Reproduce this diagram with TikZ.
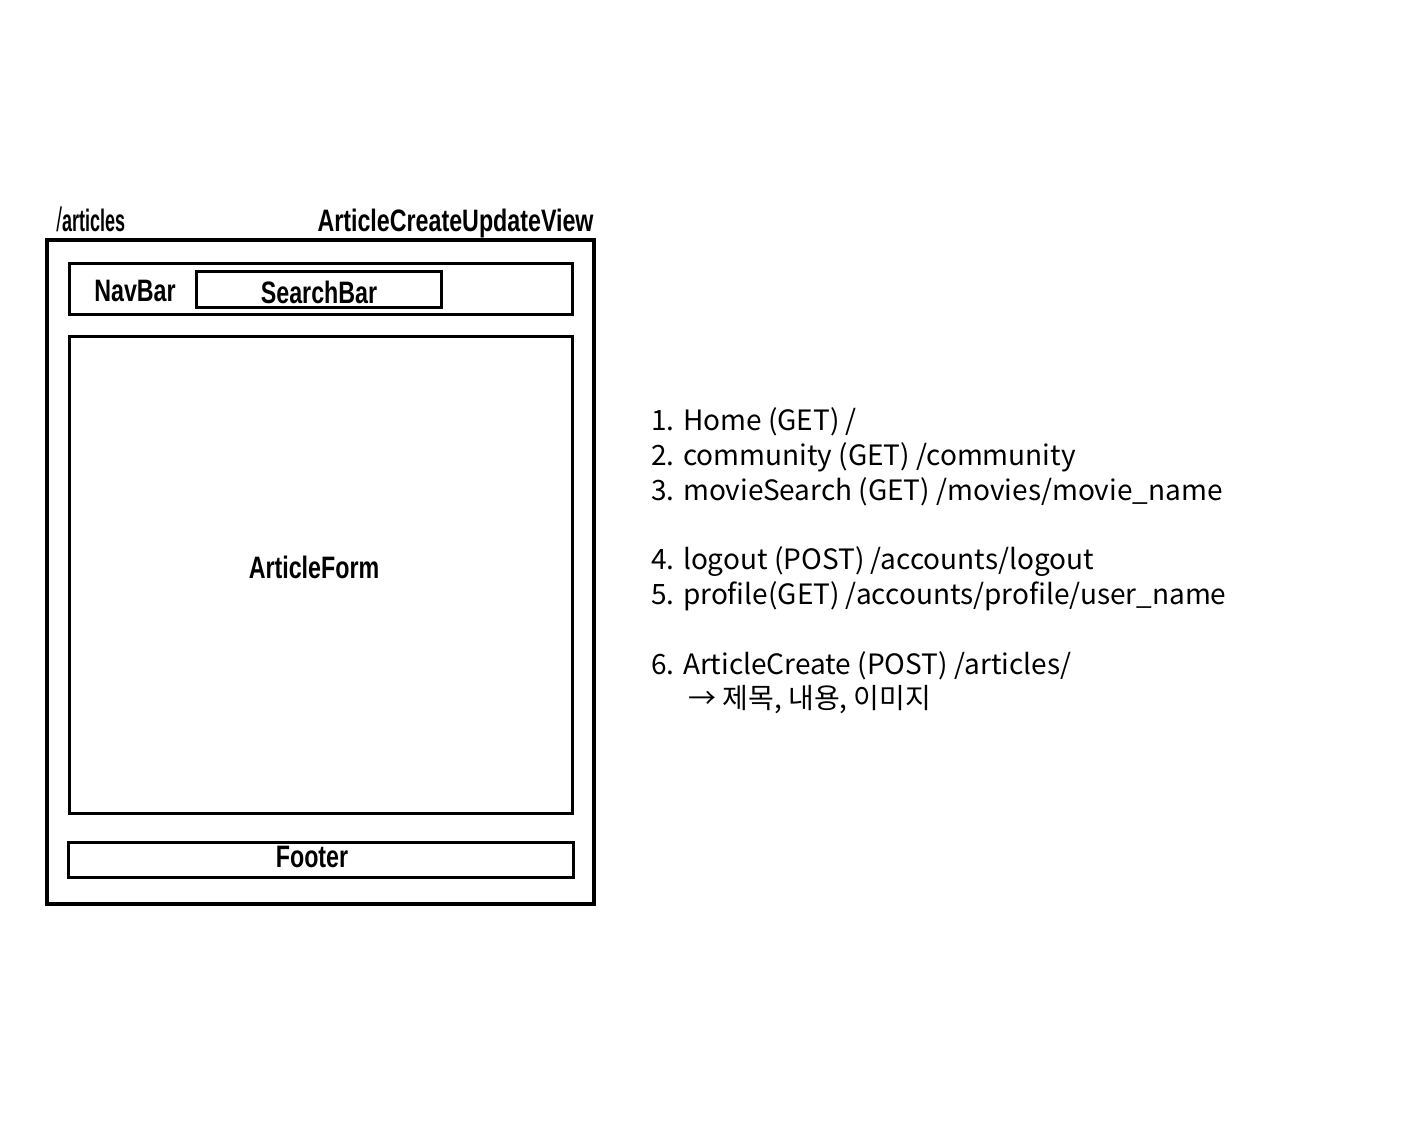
\documentclass[tikz,border=0pt]{standalone}
\usepackage{fontspec}
\newfontfamily\condbf[FakeStretch=0.75]{Liberation Sans Bold}
\newfontfamily\narrowbf[FakeStretch=0.58]{Liberation Sans Bold}
\newfontfamily\narrowrm[FakeStretch=0.6]{Liberation Sans}
\newfontfamily\kr{Noto Sans CJK KR}
\begin{document}
\begin{tikzpicture}[x=0.5pt,y=-0.5pt,
  frame/.style={draw=black,line width=1.6pt},
  inner/.style={draw=black,line width=1.5pt},
  lbl/.style={font=\condbf\fontsize{15.5}{17}\selectfont,inner sep=0pt},
  route/.style={font=\kr\fontsize{14}{16}\selectfont,anchor=base west,inner sep=0pt}]
\useasboundingbox[fill=white] (0,0) rectangle (1411,1141);
% page frame and its regions
\draw[frame] (47,240) rectangle (594,904);
\draw[inner] (69,263) rectangle (572,314);
\draw[inner] (196,271) rectangle (441,307);
\draw[inner] (69,336) rectangle (572,813);
\draw[inner] (68,842) rectangle (573,877);
% titles
\node[lbl,anchor=base west] (path) at (56,231) {{\narrowrm\fontsize{17}{17}\selectfont /}{\narrowbf\fontsize{15.5}{17}\selectfont articles}};
\node[lbl,anchor=base east] (view) at (594,231) {ArticleCreateUpdateView};
% region labels
\node[lbl] (nav) at (135,291) {NavBar};
\node[lbl] (search) at (319,292) {SearchBar};
\node[lbl] (form) at (314,567) {ArticleForm};
\node[lbl] (foot) at (312,857) {Footer};
% request list
\node[route] (r1) at (651,430) {1. Home (GET) /};
\node[route] (r2) at (651,465) {2. community (GET) /community};
\node[route] (r3) at (651,500) {3. movieSearch (GET) /movies/movie\_name};
\node[route] (r4) at (651,569) {4. logout (POST) /accounts/logout};
\node[route] (r5) at (651,604) {5. profile(GET) /accounts/profile/user\_name};
\node[route] (r6) at (651,674) {6. ArticleCreate (POST) /articles/};
\node[route] (r7) at (688,708) {→ 제목, 내용, 이미지};
\end{tikzpicture}
\end{document}
